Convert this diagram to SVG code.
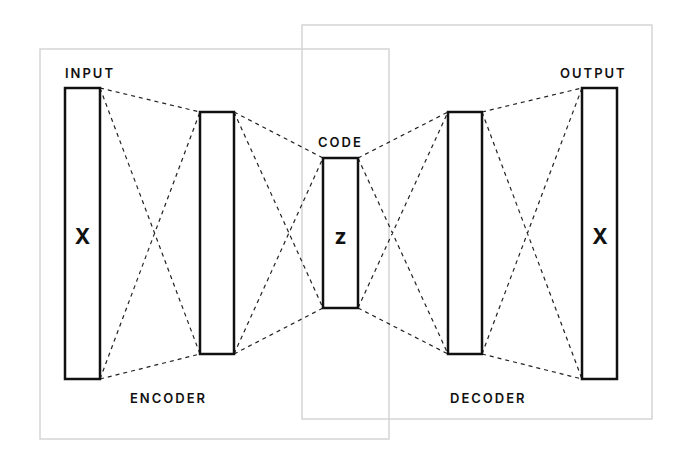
<svg xmlns="http://www.w3.org/2000/svg" width="681" height="463" viewBox="0 0 681 463">
<style>
.frame{fill:none;stroke:#d2d2d2;stroke-width:1.4}
.layer{fill:#fff;stroke:#111;stroke-width:2.5}
.dash{fill:none;stroke:#222;stroke-width:1.2;stroke-dasharray:4 4}
.lbl{font-family:Inter,"Open Sans","Liberation Sans",sans-serif;font-size:13px;font-weight:600;letter-spacing:2px;fill:#111}
.var{font-family:Inter,"Open Sans","Liberation Sans",sans-serif;font-size:21px;font-weight:700;fill:#111;text-anchor:middle}
</style>
<rect width="681" height="463" fill="#fff"/>
<g id="encoder-frame"><rect class="frame" x="40" y="49" width="349" height="390"/><text class="lbl" x="130" y="403">ENCODER</text></g>
<g id="decoder-frame"><rect class="frame" x="302" y="25" width="350" height="394"/><text class="lbl" x="450" y="403">DECODER</text></g>
<g id="connectors">
<path class="dash" d="M100 88L200 112M100 88L200 354M100 379L200 112M100 379L200 354"/>
<path class="dash" d="M234 112L323 158M234 112L323 308M234 354L323 158M234 354L323 308"/>
<path class="dash" d="M358 158L448 112M358 158L448 354M358 308L448 112M358 308L448 354"/>
<path class="dash" d="M482 112L582 88M482 112L582 379M482 354L582 88M482 354L582 379"/>
</g>
<g id="input"><rect class="layer" x="65" y="88" width="35" height="291"/><text class="var" x="82.5" y="244">X</text><text class="lbl" x="65" y="78">INPUT</text></g>
<g id="enc-hidden"><rect class="layer" x="200" y="112" width="34" height="242"/></g>
<g id="code"><rect class="layer" x="323" y="158" width="35" height="150"/><text class="var" x="340.5" y="244">z</text><text class="lbl" x="318" y="147">CODE</text></g>
<g id="dec-hidden"><rect class="layer" x="448" y="112" width="34" height="242"/></g>
<g id="output"><rect class="layer" x="582" y="88" width="35" height="291"/><text class="var" x="600" y="244">X</text><text class="lbl" x="560" y="78">OUTPUT</text></g>
</svg>
